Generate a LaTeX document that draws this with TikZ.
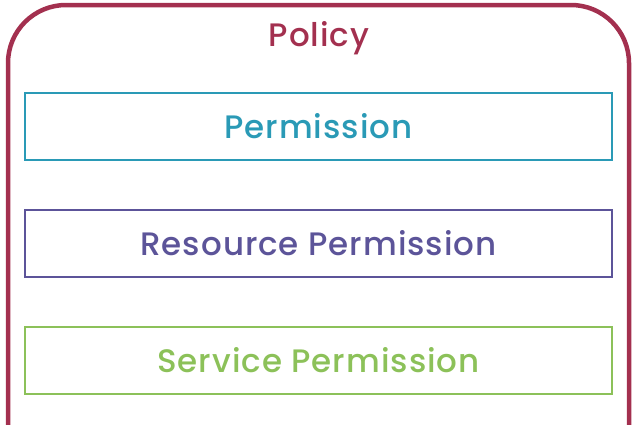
\documentclass[tikz,border=0pt]{standalone}
\usepackage{fontspec}
\setmainfont{Poppins Medium}[LetterSpace=3]
\definecolor{policyc}{HTML}{A3304F}
\definecolor{permc}{HTML}{2A9AB6}
\definecolor{resc}{HTML}{5C5499}
\definecolor{servc}{HTML}{8CC159}
\begin{document}
\begin{tikzpicture}[x=1pt,y=-1pt,
  labelfont/.style={font=\fontsize{32.5}{38}\selectfont},
  permbox/.style={draw=#1, line width=2.6pt, minimum width=587pt, minimum height=67pt,
    inner sep=0pt, text=#1, labelfont},
  frame/.style={draw=policyc, line width=4.5pt, rounded corners=58pt}]
  \useasboundingbox (0,0) rectangle (643,424);
  \begin{scope}
    \clip (0,0) rectangle (643,424);
    \draw[frame] (8,500) -- (8,5) -- (629,5) -- (629,500);
  \end{scope}
  \node[text=policyc, labelfont] (policy) at (319,38) {Policy};
  \node[permbox=permc] (perm) at (318.5,126.5) {Permission};
  \node[permbox=resc]  (res)  at (318.5,243.5) {Resource Permission};
  \node[permbox=servc] (serv) at (318.5,360.5) {Service Permission};
\end{tikzpicture}
\end{document}
